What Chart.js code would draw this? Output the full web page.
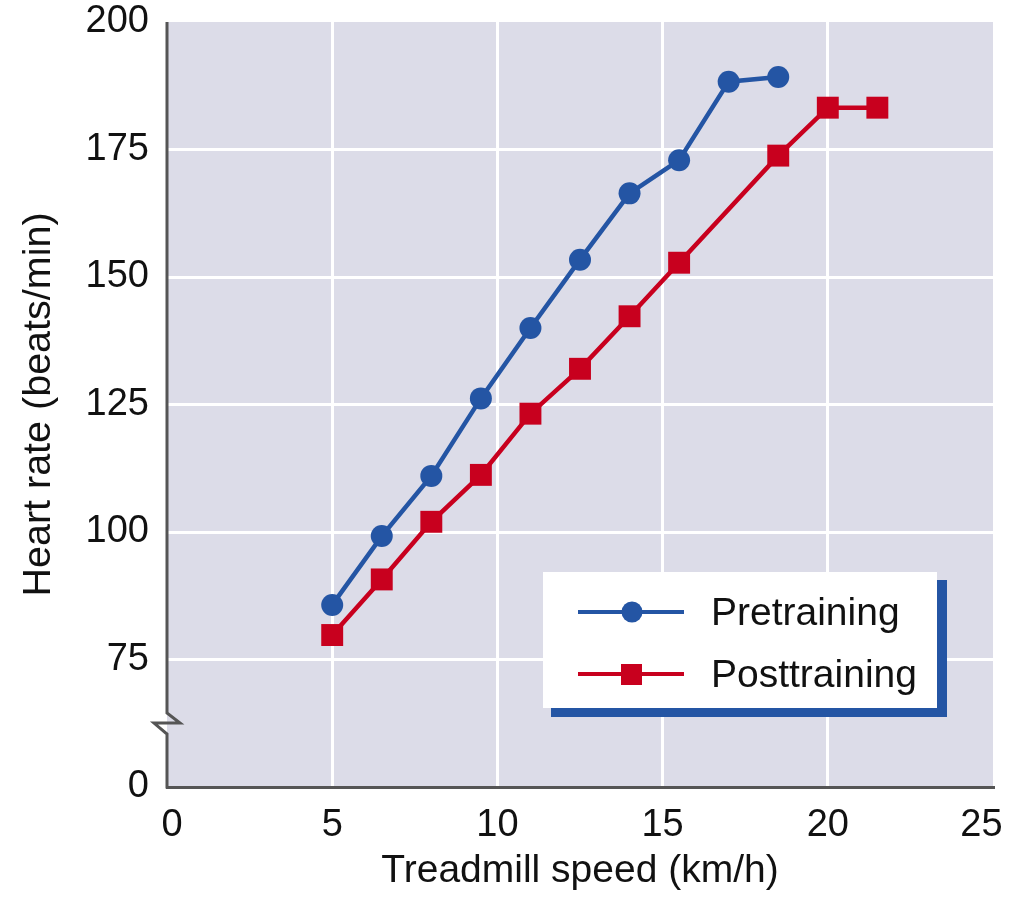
<!DOCTYPE html>
<html>
<head>
<meta charset="utf-8">
<script src="https://cdn.jsdelivr.net/npm/chart.js@4.4.1/dist/chart.umd.min.js"></script>
<style>
  html, body { margin: 0; padding: 0; background: #fff; }
  canvas { display: block; }
</style>
</head>
<body>
<canvas id="myChart" width="1010" height="901"></canvas>
<script>
"use strict"

// treadmill speed (km/h) and heart rate (beats/min)
const preSpeed = [5, 6.5, 8, 9.5, 11, 12.5, 14, 15.5, 17, 18.5];
const preHR = [85.7, 99.2, 111, 126.2, 140, 153.4, 166.4, 172.9, 188.3, 189.2];
const postSpeed = [5, 6.5, 8, 9.5, 11, 12.5, 14, 15.5, 18.5, 20, 21.5];
const postHR = [79.8, 90.7, 102, 111.2, 123.2, 132, 142.3, 152.8, 173.8, 183.2, 183.2];
// end labels sit a little inside the axis ends in the original
const xTicks = [0.15, 5, 10, 15, 20, 24.65];
const xTickLabels = ["0", "5", "10", "15", "20", "25"];
const yTicks = [50, 75, 100, 125, 150, 175, 200];
const yTickLabels = ["0", "75", "100", "125", "150", "175", "200"];
const seriesNames = ["Pretraining", "Posttraining"];

const blue = "#2455a4";
const red = "#c8001e";
const font = "'Liberation Sans', Arial, sans-serif";

const toPoints = (xs, ys) => xs.map((x, i) => ({ x: x, y: ys[i] }));

const plotBackground = {
    id: "plotBackground",
    beforeDraw(chart) {
        const { ctx, chartArea: a } = chart;
        ctx.save();
        ctx.fillStyle = "#dcdce8";
        ctx.fillRect(a.left, a.top, a.right - a.left, a.bottom - a.top);
        ctx.restore();
    }
};

// left axis with the break between 0 and 75
const brokenAxis = {
    id: "brokenAxis",
    afterDatasetsDraw(chart) {
        const { ctx, chartArea: a } = chart;
        const y = chart.scales.y;
        const yb = y.getPixelForValue(64.5);
        ctx.save();
        ctx.strokeStyle = "#555";
        ctx.lineWidth = 3;
        ctx.lineJoin = "miter";
        ctx.beginPath();
        ctx.moveTo(a.left, a.top);
        ctx.lineTo(a.left, yb);
        ctx.lineTo(a.left + 13, yb + 10);
        ctx.lineTo(a.left - 13, yb + 10);
        ctx.lineTo(a.left, yb + 21);
        ctx.lineTo(a.left, a.bottom + 1.5);
        ctx.stroke();
        ctx.restore();
    }
};

const boxLegend = {
    id: "boxLegend",
    afterDraw(chart) {
        const ctx = chart.ctx;
        const bx = 543, by = 572, bw = 394, bh = 136;
        ctx.save();
        ctx.fillStyle = blue;
        ctx.fillRect(bx + 8, by + 8, bw + 2, bh + 1);
        ctx.fillStyle = "#fff";
        ctx.fillRect(bx, by, bw, bh);
        chart.data.datasets.forEach((ds, i) => {
            const ly = 612 + i * 62;
            ctx.strokeStyle = ds.borderColor;
            ctx.lineWidth = 4;
            ctx.beginPath();
            ctx.moveTo(578, ly);
            ctx.lineTo(684, ly);
            ctx.stroke();
            ctx.fillStyle = ds.backgroundColor;
            if (ds.pointStyle === "circle") {
                ctx.beginPath();
                ctx.arc(632, ly, 10.5, 0, Math.PI * 2);
                ctx.fill();
            } else {
                ctx.fillRect(621, ly - 10, 21, 21);
            }
            ctx.fillStyle = "#111";
            ctx.font = "39px " + font;
            ctx.textBaseline = "middle";
            ctx.fillText(ds.label, 711, ly + 2);
        });
        ctx.restore();
    }
};

new Chart(document.getElementById("myChart").getContext("2d"), {
    type: "line",
    data: {
        datasets: [{
            label: seriesNames[0],
            data: toPoints(preSpeed, preHR),
            borderColor: blue,
            backgroundColor: blue,
            borderWidth: 4.5,
            pointStyle: "circle",
            pointRadius: 11,
            pointHoverRadius: 11,
            pointBorderWidth: 0
        }, {
            label: seriesNames[1],
            data: toPoints(postSpeed, postHR),
            borderColor: red,
            backgroundColor: red,
            borderWidth: 4.5,
            pointStyle: "rect",
            pointRadius: 15.5,
            pointHoverRadius: 15.5,
            pointBorderWidth: 0
        }]
    },
    options: {
        responsive: false,
        animation: false,
        devicePixelRatio: 1,
        layout: { padding: { top: 22, right: 17, left: 0, bottom: 0 } },
        scales: {
            x: {
                type: "linear",
                min: 0,
                max: 25,
                afterFit: (s) => { s.height = 114; s.paddingLeft = 0; s.paddingRight = 0; },
                afterBuildTicks: (s) => { s.ticks = xTicks.map(v => ({ value: v })); },
                grid: {
                    color: (c) => (c.tick && (c.index === 0 || c.index === xTicks.length - 1)) ? "rgba(0,0,0,0)" : "#fff",
                    lineWidth: 3,
                    drawTicks: false
                },
                border: { display: true, color: "#555", width: 3 },
                ticks: {
                    color: "#111",
                    padding: 16,
                    maxRotation: 0,
                    font: { family: font, size: 38 },
                    callback: (v, i) => xTickLabels[i]
                },
                title: {
                    display: true,
                    text: "Treadmill speed (km/h)",
                    color: "#111",
                    font: { family: font, size: 39 },
                    padding: { top: 0, bottom: 6 }
                }
            },
            y: {
                type: "linear",
                min: 50,
                max: 200,
                afterFit: (s) => { s.width = 167; s.paddingTop = 0; s.paddingBottom = 0; },
                afterBuildTicks: (s) => { s.ticks = yTicks.map(v => ({ value: v })); },
                grid: {
                    color: (c) => (c.tick && (c.tick.value === 50 || c.tick.value === 200)) ? "rgba(0,0,0,0)" : "#fff",
                    lineWidth: 3,
                    drawTicks: false
                },
                border: { display: false },
                ticks: {
                    color: "#111",
                    padding: 18,
                    font: { family: font, size: 38 },
                    callback: (v) => yTickLabels[yTicks.indexOf(v)]
                },
                title: {
                    display: true,
                    text: "Heart rate (beats/min)",
                    color: "#111",
                    font: { family: font, size: 39.5 },
                    padding: { top: 15, bottom: 0 }
                }
            }
        },
        plugins: {
            legend: { display: false },
            tooltip: { enabled: false }
        }
    },
    plugins: [plotBackground, brokenAxis, boxLegend]
});
</script>
</body>
</html>
